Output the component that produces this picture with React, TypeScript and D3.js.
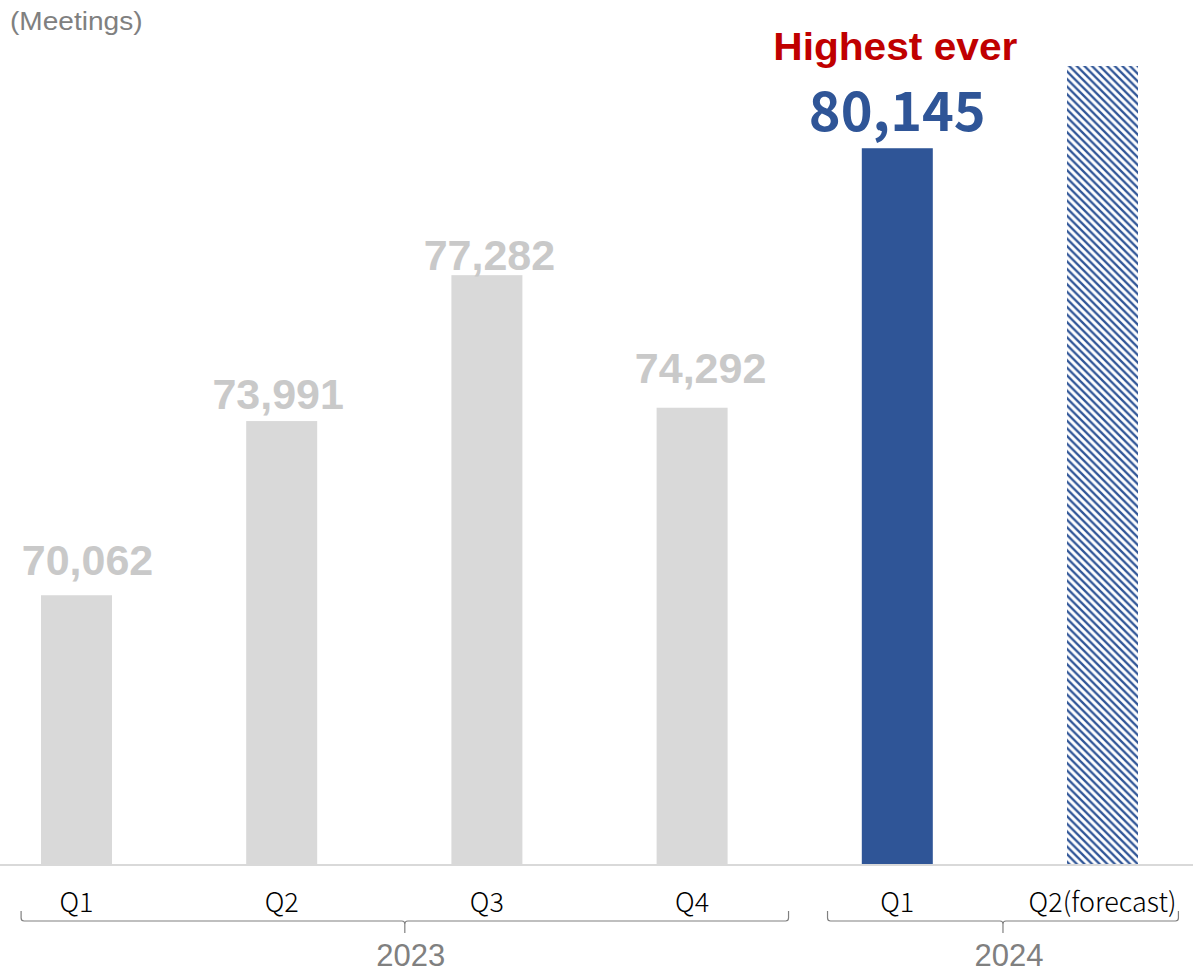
import React, { useEffect } from "react";
import * as d3 from "d3";

const categories = ["2023-Q1", "2023-Q2", "2023-Q3", "2023-Q4", "2024-Q1", "2024-Q2"];
const quarterLabels = ["Q1", "Q2", "Q3", "Q4", "Q1", "Q2(forecast)"];
const values = [70062, 73991, 77282, 74292, 80145, 82000];
const kinds = ["past", "past", "past", "past", "record", "forecast"];
const years = ["2023", "2024"];
const yearGroups = [
  ["2023-Q1", "2023-Q4"],
  ["2024-Q1", "2024-Q2"],
];
const unitLabel = "(Meetings)";
const recordLabel = "Highest ever";

// layout: per-label nudges of the value labels (px), as placed in the original
const labelLift = [20, 12, 5, 25, 17, 0];
const labelShift = [11, -3.5, 2.5, 8.5, 0, 0];

const W = 1193;
const H = 974;
const BASE = 864;

export default function App() {
  useEffect(() => {
    document.body.style.margin = "0";
  }, []);

  const x = d3
    .scaleBand<string>()
    .domain(categories)
    .range([-26.1, 1205.1])
    .paddingInner(0.654)
    .paddingOuter(0.327);
  const y = d3.scaleLinear().domain([64000, 82000]).range([BASE, 66]);
  const fmt = d3.format(",");
  const bw = x.bandwidth();
  const step = x.step();
  const cx = (c: string) => (x(c) as number) + bw / 2;

  const bracketPad = [
    [0.27, 0.47],
    [0.34, 0.37],
  ];
  const by = 921;

  const bracketPath = (l: number, r: number, m: number) => {
    const rr = 3;
    return [
      `M${l},${by - 10} L${l},${by - rr} Q${l},${by} ${l + rr},${by}`,
      `L${m - rr},${by} Q${m},${by} ${m},${by + rr} L${m},${by + 12}`,
      `M${m},${by + rr} Q${m},${by} ${m + rr},${by}`,
      `L${r - rr},${by} Q${r},${by} ${r},${by - rr} L${r},${by - 10}`,
    ].join(" ");
  };

  return (
    <svg width={W} height={H} style={{ display: "block" }}>
      <defs>
        <pattern id="hatch" patternUnits="userSpaceOnUse" width="7.6" height="7.6">
          <rect width="7.6" height="7.6" fill="#ffffff" />
          <path
            d="M-2,-2 L9.6,9.6 M-2,5.6 L2,9.6 M5.6,-2 L9.6,2"
            stroke="#2F5597"
            strokeWidth="2.3"
          />
        </pattern>
      </defs>

      <text
        transform="translate(10,30) scale(1.08,1)"
        fontFamily="Arial, 'Liberation Sans', sans-serif"
        fontSize={26}
        fill="#808080"
      >
        {unitLabel}
      </text>

      {categories.map((c, i) => (
        <rect
          key={c}
          x={x(c)}
          y={y(values[i])}
          width={bw}
          height={BASE - y(values[i])}
          fill={kinds[i] === "past" ? "#D9D9D9" : kinds[i] === "record" ? "#2F5597" : "url(#hatch)"}
        />
      ))}

      <line x1={0} x2={W} y1={BASE + 1} y2={BASE + 1} stroke="#D9D9D9" strokeWidth={2} />

      {categories.map((c, i) =>
        kinds[i] === "past" ? (
          <text
            key={"v" + c}
            x={cx(c) + labelShift[i]}
            y={y(values[i]) - labelLift[i]}
            textAnchor="middle"
            fontFamily="Arial, 'Liberation Sans', sans-serif"
            fontWeight="bold"
            fontSize={43}
            fill="#C9C9C9"
          >
            {fmt(values[i])}
          </text>
        ) : kinds[i] === "record" ? (
          <g key={"v" + c}>
            <text
              x={cx(c)}
              y={y(values[i]) - labelLift[i]}
              textAnchor="middle"
              fontFamily="'Noto Sans CJK JP', sans-serif"
              fontWeight={700}
              fontSize={54}
              fill="#2F5597"
            >
              {fmt(values[i])}
            </text>
            <text
              transform={`translate(${cx(c) - 2},60) scale(1.07,1)`}
              textAnchor="middle"
              fontFamily="Arial, 'Liberation Sans', sans-serif"
              fontWeight="bold"
              fontSize={38}
              fill="#C00000"
            >
              {recordLabel}
            </text>
          </g>
        ) : null
      )}

      {categories.map((c, i) => (
        <text
          key={"q" + c}
          x={cx(c)}
          y={912}
          textAnchor="middle"
          fontFamily="'Noto Sans CJK JP', sans-serif"
          fontWeight={300}
          fontSize={27}
          fill="#000000"
        >
          {quarterLabels[i]}
        </text>
      ))}

      {years.map((yr, gi) => {
        const [a, b] = yearGroups[gi];
        const l = cx(a) - bracketPad[gi][0] * step;
        const r = cx(b) + bracketPad[gi][1] * step;
        const m = (l + r) / 2;
        return (
          <g key={yr}>
            <path d={bracketPath(l, r, m)} fill="none" stroke="#808080" strokeWidth={1.2} />
            <text
              x={m + 6}
              y={966}
              textAnchor="middle"
              fontFamily="Arial, 'Liberation Sans', sans-serif"
              fontSize={31}
              fill="#808080"
            >
              {yr}
            </text>
          </g>
        );
      })}
    </svg>
  );
}
